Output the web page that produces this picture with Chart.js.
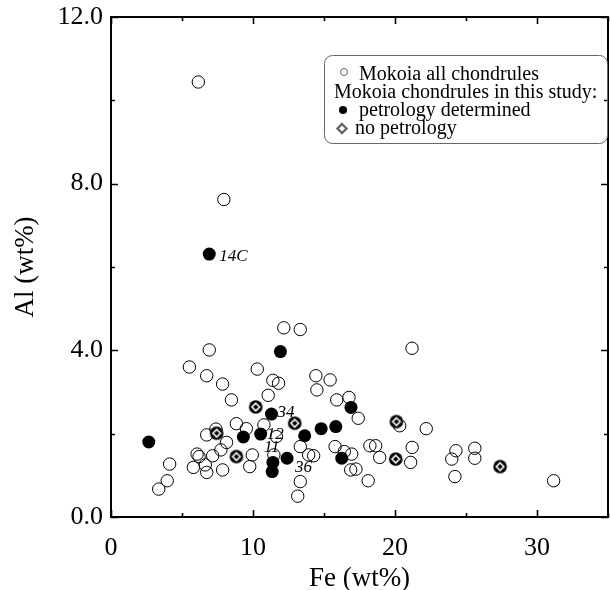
<!DOCTYPE html>
<html>
<head>
<meta charset="utf-8">
<script src="https://cdn.jsdelivr.net/npm/chart.js@4/dist/chart.umd.min.js"></script>
<style>
  html, body { margin: 0; padding: 0; background: #fff; }
  #wrap { width: 610px; height: 590px; }
</style>
</head>
<body>
<div id="wrap"><canvas id="myChart" width="610" height="590"></canvas></div>
<script>
// Mokoia all chondrules (open circles)
let allFe = [6.15, 7.95, 12.17, 13.33, 6.92, 21.2, 5.52, 6.74, 7.86, 10.3, 11.4, 11.8, 14.43, 15.43, 14.5,
  8.48, 11.07, 15.9, 16.76, 17.41, 8.83, 9.53, 10.77, 7.39, 6.74, 8.14, 7.74, 11.65, 13.33, 13.92, 14.27,
  6.06, 6.2, 7.16, 9.95, 4.13, 5.8, 6.64, 6.74, 7.86, 9.77, 3.96, 3.36, 13.33, 13.15, 11.47, 20.33, 22.2,
  15.78, 16.43, 16.95, 18.23, 18.64, 18.92, 21.21, 21.1, 16.88, 17.25, 18.11, 24.29, 24.0, 25.62, 25.62,
  24.22, 31.17];
let allAl = [10.44, 7.62, 4.54, 4.5, 4.01, 4.05, 3.6, 3.39, 3.19, 3.55, 3.28, 3.21, 3.39, 3.29, 3.05,
  2.81, 2.92, 2.81, 2.87, 2.37, 2.24, 2.12, 2.21, 2.11, 1.97, 1.79, 1.61, 1.93, 1.69, 1.49, 1.47,
  1.51, 1.45, 1.47, 1.49, 1.27, 1.19, 1.25, 1.07, 1.13, 1.21, 0.87, 0.67, 0.85, 0.5, 1.49, 2.19, 2.12,
  1.69, 1.57, 1.51, 1.71, 1.71, 1.43, 1.67, 1.31, 1.13, 1.15, 0.87, 1.59, 1.39, 1.65, 1.41,
  0.97, 0.87];

// this study: petrology determined (filled circles)
let petFe = [11.93, 11.3, 9.32, 10.54, 13.64, 14.8, 15.83, 12.4, 11.4, 11.35, 2.66, 16.25, 16.9, 6.92];
let petAl = [3.97, 2.47, 1.92, 1.99, 1.95, 2.12, 2.17, 1.41, 1.31, 1.09, 1.8, 1.41, 2.63, 6.31];

// this study: no petrology (diamond symbols)
let noPetFe = [10.19, 12.94, 7.44, 8.83, 20.1, 20.05, 27.4];
let noPetAl = [2.64, 2.25, 2.01, 1.45, 2.29, 1.39, 1.21];

// chondrule names written next to points
let nameText = ["14C", "34", "12", "11", "36"];
let nameFe = [6.92, 11.3, 10.54, 11.4, 12.4];
let nameAl = [6.31, 2.47, 1.99, 1.31, 1.41];

let legendLines = ["Mokoia all chondrules", "Mokoia chondrules in this study:", "petrology determined", "no petrology"];

let serif = "'Liberation Serif', 'Times New Roman', serif";

function toPoints(xs, ys) {
  return xs.map((x, i) => ({ x: x, y: ys[i] }));
}

// diamond marker: black disc with a white diamond ring
let diamondImg = document.createElement("canvas");
diamondImg.width = 16;
diamondImg.height = 16;
(function () {
  let c = diamondImg.getContext("2d");
  c.fillStyle = "#000";
  c.beginPath();
  c.arc(8, 8, 6.8, 0, Math.PI * 2);
  c.fill();
  c.strokeStyle = "#fff";
  c.lineWidth = 1.6;
  c.beginPath();
  c.moveTo(8, 4.2);
  c.lineTo(11.8, 8);
  c.lineTo(8, 11.8);
  c.lineTo(4.2, 8);
  c.closePath();
  c.stroke();
})();

// inward ticks + full frame
let framePlugin = {
  id: "frame",
  afterDraw(chart) {
    let c = chart.ctx;
    let a = chart.chartArea;
    let xs = chart.scales.x;
    let ys = chart.scales.y;
    c.save();
    c.strokeStyle = "#000";
    c.lineWidth = 2;
    c.strokeRect(a.left, a.top, a.right - a.left, a.bottom - a.top);
    c.lineWidth = 1.6;
    c.beginPath();
    xs.ticks.forEach((t) => {
      let px = Math.round(xs.getPixelForValue(t.value)) + 0.5;
      let len = t.value % 10 === 0 ? 7 : 4;
      c.moveTo(px, a.bottom);
      c.lineTo(px, a.bottom - len);
      c.moveTo(px, a.top);
      c.lineTo(px, a.top + len);
    });
    ys.ticks.forEach((t) => {
      let py = Math.round(ys.getPixelForValue(t.value)) + 0.5;
      let len = t.value % 4 === 0 ? 7 : 4;
      c.moveTo(a.left, py);
      c.lineTo(a.left + len, py);
      c.moveTo(a.right, py);
      c.lineTo(a.right - len, py);
    });
    c.stroke();
    c.restore();
  },
};

// italic chondrule names
let namePlugin = {
  id: "names",
  afterDatasetsDraw(chart) {
    let c = chart.ctx;
    let xs = chart.scales.x;
    let ys = chart.scales.y;
    let offsets = [[10, 2], [6, -2], [6, 0], [-9, -15], [8, 9]];
    c.save();
    c.font = "italic 17px " + serif;
    c.fillStyle = "#000";
    c.textBaseline = "middle";
    c.textAlign = "left";
    nameText.forEach((txt, i) => {
      let px = xs.getPixelForValue(nameFe[i]);
      let py = ys.getPixelForValue(nameAl[i]);
      c.fillText(txt, px + offsets[i][0], py + offsets[i][1]);
    });
    c.restore();
  },
};

// boxed legend in the upper right
let legendPlugin = {
  id: "boxLegend",
  afterDraw(chart) {
    let c = chart.ctx;
    let bx = 324, by = 55, bw = 283, bh = 88;
    c.save();
    c.strokeStyle = "#666";
    c.lineWidth = 1;
    c.beginPath();
    c.roundRect(bx + 0.5, by + 0.5, bw, bh, 8);
    c.stroke();
    c.font = "20px " + serif;
    c.fillStyle = "#000";
    c.textBaseline = "middle";
    c.textAlign = "left";
    c.fillText(legendLines[0], 359, 75);
    c.fillText(legendLines[1], 334, 93);
    c.fillText(legendLines[2], 359, 111);
    c.fillText(legendLines[3], 355, 129);
    // symbols
    c.lineWidth = 1;
    c.beginPath();
    c.arc(344, 72, 3.5, 0, Math.PI * 2);
    c.stroke();
    c.beginPath();
    c.arc(343, 110, 4, 0, Math.PI * 2);
    c.fill();
    c.lineWidth = 2.4;
    c.beginPath();
    c.moveTo(342, 124);
    c.lineTo(346.5, 128.5);
    c.lineTo(342, 133);
    c.lineTo(337.5, 128.5);
    c.closePath();
    c.stroke();
    c.restore();
  },
};

let ctx = document.getElementById("myChart").getContext("2d");

let config = {
  type: "scatter",
  data: {
    datasets: [
      {
        label: legendLines[3],
        data: toPoints(noPetFe, noPetAl),
        pointStyle: diamondImg,
        order: 0,
      },
      {
        label: legendLines[2],
        data: toPoints(petFe, petAl),
        pointRadius: 6.5,
        backgroundColor: "#000",
        borderColor: "#000",
        borderWidth: 0,
        order: 1,
      },
      {
        label: legendLines[0],
        data: toPoints(allFe, allAl),
        pointRadius: 6.2,
        backgroundColor: "rgba(0,0,0,0)",
        borderColor: "#000",
        borderWidth: 1,
        order: 2,
      },
    ],
  },
  options: {
    responsive: false,
    animation: false,
    layout: { autoPadding: false, padding: { left: 0, right: 2, top: 17, bottom: 0 } },
    plugins: {
      legend: { display: false },
      tooltip: { enabled: false },
    },
    scales: {
      x: {
        type: "linear",
        min: 0,
        max: 35,
        ticks: {
          stepSize: 5,
          padding: 2,
          color: "#000",
          font: { family: serif, size: 26, lineHeight: 2.25 },
          maxRotation: 0,
          callback: (v) => (v % 10 === 0 && v < 35 ? String(v) : ""),
        },
        grid: { drawOnChartArea: false, drawTicks: false },
        border: { display: false },
        title: {
          display: true,
          text: "Fe (wt%)",
          color: "#000",
          font: { family: serif, size: 27, lineHeight: 0.85 },
          padding: { top: 0, bottom: 0 },
        },
        afterFit: (s) => {
          s.height = 73;
        },
      },
      y: {
        type: "linear",
        min: 0,
        max: 12,
        ticks: {
          stepSize: 2,
          padding: 8,
          color: "#000",
          font: { family: serif, size: 26, lineHeight: 0.69 },
          callback: (v) => (v % 4 === 0 ? v.toFixed(1) : ""),
        },
        grid: { drawOnChartArea: false, drawTicks: false },
        border: { display: false },
        title: {
          display: true,
          text: "Al (wt%)",
          color: "#000",
          font: { family: serif, size: 27, lineHeight: 1 },
          padding: { top: 12, bottom: 0 },
        },
        afterFit: (s) => {
          s.width = 111;
        },
      },
    },
  },
  plugins: [framePlugin, namePlugin, legendPlugin],
};

let myChart = new Chart(ctx, config);
</script>
</body>
</html>
